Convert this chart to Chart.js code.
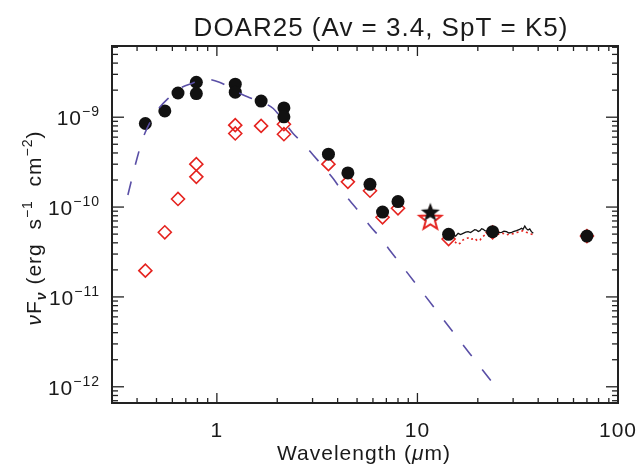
<!DOCTYPE html>
<html><head><meta charset="utf-8">
<script src="https://cdn.jsdelivr.net/npm/chart.js@4/dist/chart.umd.min.js"></script>
<style>html,body{margin:0;padding:0;background:#fff}#wrap{width:638px;height:465px}</style>
</head><body><div id="wrap"><canvas id="c" width="638" height="465"></canvas></div>
<script>
// ---- data (wavelength in micron, nuFnu in erg s^-1 cm^-2) ----
const photWave   = [0.44, 0.55, 0.64, 0.79, 0.79, 1.235, 1.235, 1.662, 2.159, 2.159, 3.6, 4.5, 5.8, 6.7, 8.0, 14.3, 23.7, 70];
const deredFlux  = [8.51e-10, 1.175e-9, 1.86e-9, 2.45e-9, 1.83e-9, 2.33e-9, 1.90e-9, 1.51e-9, 1.27e-9, 1.01e-9, 3.88e-10, 2.40e-10, 1.79e-10, 8.8e-11, 1.15e-10, 4.97e-11, 5.32e-11, 4.76e-11];
const obsFlux    = [1.96e-11, 5.24e-11, 1.23e-10, 3.0e-10, 2.17e-10, 8.15e-10, 6.59e-10, 8.0e-10, 8.36e-10, 6.47e-10, 3.0e-10, 1.91e-10, 1.52e-10, 7.7e-11, 9.7e-11, 4.41e-11, 5.24e-11, 4.76e-11];
const starWave   = [11.6];
const starDered  = [8.65e-11];
const starObs    = [7.3e-11];
const specWave   = [15.07, 15.5, 15.96, 16.4, 16.9, 17.4, 17.9, 18.4, 18.96, 19.3, 19.7, 20.1, 20.5, 20.9, 21.3, 21.7, 22.1, 22.7, 23.4, 24.1, 24.8, 25.5, 26.3, 27.0, 27.8, 28.6, 29.5, 30.3, 31.2, 32.1, 33.0, 33.6, 34.3, 34.9, 35.6, 36.3, 37.0, 37.8];
const specDered  = [4.89e-11, 4.75e-11, 5.10e-11, 4.95e-11, 5.10e-11, 5.25e-11, 5.32e-11, 5.20e-11, 5.46e-11, 5.60e-11, 5.55e-11, 5.35e-11, 5.46e-11, 5.75e-11, 5.65e-11, 5.45e-11, 5.41e-11, 5.55e-11, 5.32e-11, 5.45e-11, 5.32e-11, 5.20e-11, 5.24e-11, 5.38e-11, 5.32e-11, 5.15e-11, 5.24e-11, 5.35e-11, 5.46e-11, 5.60e-11, 5.80e-11, 5.65e-11, 6.15e-11, 5.75e-11, 5.55e-11, 5.70e-11, 5.32e-11, 5.10e-11];
const specObsWave= [15.4, 15.8, 16.3, 16.7, 17.2, 17.7, 18.2, 18.7, 19.3, 19.9, 20.5, 21.1, 21.7, 22.5, 23.4, 25.0, 26.7, 27.8, 28.9, 30.0, 31.2, 32.4, 33.6, 34.9, 36.3, 37.8];
const specObs    = [4.11e-11, 3.85e-11, 3.95e-11, 4.25e-11, 4.38e-11, 4.50e-11, 4.60e-11, 4.40e-11, 4.49e-11, 4.20e-11, 4.30e-11, 4.65e-11, 4.89e-11, 5.00e-11, 5.10e-11, 4.95e-11, 5.10e-11, 4.90e-11, 5.01e-11, 5.05e-11, 5.20e-11, 5.30e-11, 5.46e-11, 5.25e-11, 5.10e-11, 4.89e-11];
const modelWave  = [0.36, 0.40, 0.43, 0.47, 0.52, 0.57, 0.65, 0.76, 0.89, 1.03, 1.2, 1.33, 1.46, 1.7, 1.91, 2.22, 2.4, 2.74, 3.02, 3.45, 3.8, 4.23, 4.69, 5.27, 5.79, 6.57, 7.23, 10, 15, 20, 26];
const modelFlux  = [1.36e-10, 3.5e-10, 6.0e-10, 9.2e-10, 1.3e-9, 1.61e-9, 2.08e-9, 2.4e-9, 2.65e-9, 2.45e-9, 2.05e-9, 1.8e-9, 1.65e-9, 1.45e-9, 1.25e-9, 8.2e-10, 6.6e-10, 4.9e-10, 3.8e-10, 2.69e-10, 2.08e-10, 1.48e-10, 1.12e-10, 8.2e-11, 6.2e-11, 4.48e-11, 3.38e-11, 1.33e-11, 4.1e-12, 1.8e-12, 8.5e-13];
const xTickValues = [1, 10, 100];
const xTickLabels = ['1', '10', '100'];
const yTickValues = [1e-12, 1e-11, 1e-10, 1e-9];
const yTickExps   = ['\u221212', '\u221211', '\u221210', '\u22129'];
const titleText = 'DOAR25 (Av = 3.4, SpT = K5)';

const pts = (xs, ys) => xs.map((v, i) => ({x: v, y: ys[i]}));
const RED = '#e5231f', BLUE = '#5a4fa6', INK = '#1a1a1a';
const FONT = '"Liberation Sans", Arial, sans-serif';

function makeStar(R, fill, stroke, lw) {
  const s = Math.ceil(2 * R + lw * 2 + 2);
  const cv = document.createElement('canvas'); cv.width = s; cv.height = s;
  const g = cv.getContext('2d'); const c = s / 2; const r = R * 0.42;
  g.beginPath();
  for (let i = 0; i < 10; i++) {
    const rr = i % 2 ? r : R; const a = -Math.PI / 2 + i * Math.PI / 5;
    g.lineTo(c + rr * Math.cos(a), c + rr * Math.sin(a));
  }
  g.closePath();
  if (fill) { g.fillStyle = fill; g.fill(); }
  if (stroke) { g.strokeStyle = stroke; g.lineWidth = lw; g.lineJoin = 'miter'; g.stroke(); }
  return cv;
}
const blackStar = makeStar(10, '#111', null, 0);
const redStar = makeStar(11.5, null, RED, 2);

function setLS(ctx, v) { if ('letterSpacing' in ctx) ctx.letterSpacing = v; }

const decor = {
  id: 'decor',
  afterDatasetsDraw(chart) {
    const {ctx, chartArea: a, scales: {x, y}} = chart;
    ctx.save();
    ctx.strokeStyle = '#222'; ctx.lineWidth = 1.3;
    const L = (x1, y1, x2, y2) => { ctx.beginPath(); ctx.moveTo(x1, y1); ctx.lineTo(x2, y2); ctx.stroke(); };
    for (let d = -1; d <= 2; d++) for (let m = 1; m <= 9; m++) {
      const v = m * Math.pow(10, d);
      if (v < x.min || v > x.max) continue;
      const px = x.getPixelForValue(v); const len = m === 1 ? 10 : 5;
      L(px, a.bottom, px, a.bottom - len); L(px, a.top, px, a.top + len);
    }
    for (let d = -13; d <= -8; d++) for (let m = 1; m <= 9; m++) {
      const v = m * Math.pow(10, d);
      if (v < y.min || v > y.max) continue;
      const py = y.getPixelForValue(v); const len = m === 1 ? 12 : 6;
      L(a.left, py, a.left + len, py); L(a.right, py, a.right - len, py);
    }
    ctx.lineWidth = 2;
    ctx.strokeRect(a.left, a.top, a.right - a.left, a.bottom - a.top);
    ctx.fillStyle = INK;
    setLS(ctx, '1px');
    // x tick labels
    ctx.font = '21px ' + FONT; ctx.textAlign = 'center'; ctx.textBaseline = 'alphabetic';
    xTickValues.forEach((v, i) => ctx.fillText(xTickLabels[i], x.getPixelForValue(v), a.bottom + 34));
    // y tick labels
    yTickValues.forEach((v, i) => {
      const py = y.getPixelForValue(v);
      ctx.font = '14px ' + FONT; const w2 = ctx.measureText(yTickExps[i]).width;
      ctx.font = '21px ' + FONT; const w1 = ctx.measureText('10').width;
      ctx.textAlign = 'left';
      ctx.fillText('10', 100 - w2 - w1, py + 8);
      ctx.font = '14px ' + FONT; ctx.fillText(yTickExps[i], 100 - w2, py - 1);
    });
    // title
    ctx.font = '26px ' + FONT; ctx.textAlign = 'center';
    ctx.fillText(titleText, 381, 36);
    // x title
    const segsX = [['Wavelength (', '21px ' + FONT, 0], ['\u03bc', 'italic 21px ' + FONT, 0], ['m)', '21px ' + FONT, 0]];
    drawSegs(ctx, segsX, 364, 460);
    // y title (rotated)
    ctx.save(); ctx.translate(34, 228); ctx.rotate(-Math.PI / 2);
    const segsY = [['\u03bd', 'italic 21px ' + FONT, 0], ['F', '21px ' + FONT, 0], ['\u03bd', 'italic bold 14px ' + FONT, 5],
      [' (erg  s', '21px ' + FONT, 0], ['\u22121', '14px ' + FONT, -9], ['  cm', '21px ' + FONT, 0], ['\u22122', '14px ' + FONT, -9], [')', '21px ' + FONT, 0]];
    drawSegs(ctx, segsY, 0, 7);
    ctx.restore();
    ctx.restore();
  }
};
function drawSegs(ctx, segs, cx, by) {
  let tw = 0;
  segs.forEach(s => { ctx.font = s[1]; tw += ctx.measureText(s[0]).width; });
  let xx = cx - tw / 2; ctx.textAlign = 'left';
  segs.forEach(s => { ctx.font = s[1]; ctx.fillText(s[0], xx, by + s[2]); xx += ctx.measureText(s[0]).width; });
}

new Chart(document.getElementById('c'), {
  type: 'scatter',
  data: { datasets: [
    { data: pts(modelWave, modelFlux), showLine: true, borderColor: BLUE, borderWidth: 1.6, borderDash: [14, 17], pointRadius: 0, cubicInterpolationMode: 'monotone', fill: false },
    { data: pts(photWave, deredFlux), pointStyle: 'circle', pointRadius: 6.5, backgroundColor: '#111', borderColor: '#111', borderWidth: 0 },
    { data: pts(specWave, specDered), showLine: true, borderColor: '#111', borderWidth: 1.3, pointRadius: 0 },
    { data: pts(specObsWave, specObs), showLine: true, borderColor: RED, borderWidth: 1.6, borderDash: [2, 3], pointRadius: 0 },
    { data: pts(photWave, obsFlux), pointStyle: 'rectRot', pointRadius: 6.5, backgroundColor: 'rgba(0,0,0,0)', borderColor: RED, borderWidth: 1.6 },
    { data: pts(starWave, starDered), pointStyle: blackStar },
    { data: pts(starWave, starObs), pointStyle: redStar }
  ]},
  options: {
    responsive: false, animation: false, events: [],
    layout: { padding: { left: 112, right: 20, top: 46, bottom: 62 } },
    scales: {
      x: { type: 'logarithmic', min: 0.3, max: 100, display: false },
      y: { type: 'logarithmic', min: 6.6e-13, max: 6.2e-9, display: false }
    },
    plugins: { legend: { display: false }, tooltip: { enabled: false } }
  },
  plugins: [decor]
});
</script></body></html>
